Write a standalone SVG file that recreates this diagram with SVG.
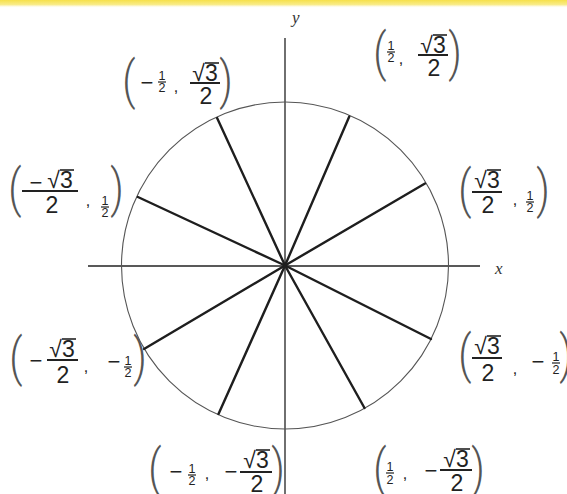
<svg xmlns="http://www.w3.org/2000/svg" width="567" height="494" viewBox="0 0 567 494">
<defs>
<linearGradient id="yel" x1="0" y1="0" x2="0" y2="1">
<stop offset="0" stop-color="#f6e04a"/>
<stop offset="0.6" stop-color="#f9ec8c"/>
<stop offset="1" stop-color="#ffffff" stop-opacity="0"/>
</linearGradient>
<style>
.big{font-family:"Liberation Sans",Arial,sans-serif;font-size:23px;fill:#222;text-anchor:middle}
.sm{font-family:"Liberation Sans",Arial,sans-serif;font-size:12.5px;fill:#222;text-anchor:middle}
.par{font-family:Roboto,"Liberation Sans",sans-serif;font-weight:300;font-size:52px;fill:#555;text-anchor:middle}
.cm{font-family:"Liberation Sans",Arial,sans-serif;font-size:16px;fill:#222;text-anchor:middle}
.mn{font-family:"Liberation Sans",Arial,sans-serif;font-size:22px;fill:#222;text-anchor:middle}
.ax{font-family:"Liberation Serif","Times New Roman",serif;font-style:italic;font-size:17px;fill:#333}
.bar{stroke:#222;stroke-width:2}
.sbar{stroke:#222;stroke-width:1.2}
.ovl{stroke:#222;stroke-width:1.6}
.spoke{stroke:#1e1e1e;stroke-width:2.4;stroke-linecap:round}
.axis{stroke:#222;stroke-width:1.3}
</style>
</defs>
<rect width="567" height="494" fill="#ffffff"/>
<rect x="0" y="0" width="567" height="8" fill="url(#yel)"/>

<g id="axes">
<line class="axis" x1="88" y1="266" x2="480" y2="266"/>
<line class="axis" x1="285" y1="38" x2="285" y2="494"/>
<text class="ax" x="292" y="23">y</text>
<text class="ax" x="495" y="274">x</text>
</g>

<g id="circle">
<circle cx="285" cy="265.5" r="163.5" fill="none" stroke="#555" stroke-width="1.1"/>
</g>

<g id="connectors">
<line class="spoke" x1="285" y1="265.5" x2="349.3" y2="116.5"/>
<line class="spoke" x1="285" y1="265.5" x2="217.1" y2="118"/>
<line class="spoke" x1="285" y1="265.5" x2="137.9" y2="197"/>
<line class="spoke" x1="285" y1="265.5" x2="425" y2="183.5"/>
<line class="spoke" x1="285" y1="265.5" x2="144" y2="349"/>
<line class="spoke" x1="285" y1="265.5" x2="431" y2="339"/>
<line class="spoke" x1="285" y1="265.5" x2="218.5" y2="414"/>
<line class="spoke" x1="285" y1="265.5" x2="364.5" y2="408"/>
</g>

<!-- L1 (1/2, sqrt3/2) B=55 -->
<g id="label-60">
<text class="par" transform="translate(380,70) scale(0.8,1)">(</text>
<text class="sm" x="391" y="50">1</text>
<line class="sbar" x1="387" y1="52" x2="395" y2="52"/>
<text class="sm" x="391" y="62">2</text>
<text class="cm" x="401" y="64">,</text>
<text class="big" x="433" y="53">√3</text>
<line class="ovl" x1="433" y1="35" x2="447" y2="35"/>
<line class="bar" x1="418" y1="55" x2="448" y2="55"/>
<text class="big" x="434" y="76">2</text>
<text class="par" transform="translate(455,70) scale(0.8,1)">)</text>
</g>

<!-- L2 (-1/2, sqrt3/2) B=83 -->
<g id="label-120">
<text class="par" transform="translate(129,98) scale(0.8,1)">(</text>
<text class="mn" x="147" y="90">−</text>
<text class="sm" x="162" y="80">1</text>
<line class="sbar" x1="158" y1="82" x2="166" y2="82"/>
<text class="sm" x="162" y="92">2</text>
<text class="cm" x="176" y="92">,</text>
<text class="big" x="205" y="81">√3</text>
<line class="ovl" x1="205" y1="63" x2="219" y2="63"/>
<line class="bar" x1="190" y1="83" x2="220" y2="83"/>
<text class="big" x="206" y="104">2</text>
<text class="par" transform="translate(226,98) scale(0.8,1)">)</text>
</g>

<!-- L3 (-sqrt3/2, 1/2) B=191 -->
<g id="label-150">
<text class="par" transform="translate(15,206) scale(0.8,1)">(</text>
<text class="mn" x="36" y="190">−</text>
<text class="big" x="60" y="188">√3</text>
<line class="ovl" x1="60" y1="170" x2="74" y2="170"/>
<line class="bar" x1="22" y1="191" x2="78" y2="191"/>
<text class="big" x="52" y="213">2</text>
<text class="cm" x="88" y="206">,</text>
<text class="sm" x="105" y="205">1</text>
<line class="sbar" x1="101" y1="207" x2="109" y2="207"/>
<text class="sm" x="105" y="217">2</text>
<text class="par" transform="translate(117,206) scale(0.8,1)">)</text>
</g>

<!-- L4 (sqrt3/2, 1/2) B=192 -->
<g id="label-30">
<text class="par" transform="translate(465,207) scale(0.8,1)">(</text>
<text class="big" x="487" y="188">√3</text>
<line class="ovl" x1="487" y1="170" x2="501" y2="170"/>
<line class="bar" x1="472" y1="192" x2="502" y2="192"/>
<text class="big" x="488" y="213">2</text>
<text class="cm" x="515" y="205">,</text>
<text class="sm" x="530" y="200">1</text>
<line class="sbar" x1="526" y1="202" x2="534" y2="202"/>
<text class="sm" x="530" y="212">2</text>
<text class="par" transform="translate(543,207) scale(0.8,1)">)</text>
</g>

<!-- L5 (-sqrt3/2, -1/2) B=360 -->
<g id="label-210">
<text class="par" transform="translate(16,375) scale(0.8,1)">(</text>
<text class="mn" x="36" y="368">−</text>
<text class="big" x="62" y="357">√3</text>
<line class="ovl" x1="62" y1="339" x2="76" y2="339"/>
<line class="bar" x1="47" y1="360" x2="78" y2="360"/>
<text class="big" x="63" y="383">2</text>
<text class="cm" x="86" y="372">,</text>
<text class="mn" x="114" y="369">−</text>
<text class="sm" x="128" y="365">1</text>
<line class="sbar" x1="124" y1="367" x2="132" y2="367"/>
<text class="sm" x="128" y="377">2</text>
<text class="par" transform="translate(140,375) scale(0.8,1)">)</text>
</g>

<!-- L6 (sqrt3/2, -1/2) B=358 -->
<g id="label-330">
<text class="par" transform="translate(465,372) scale(0.8,1)">(</text>
<text class="big" x="487" y="354">√3</text>
<line class="ovl" x1="487" y1="336" x2="501" y2="336"/>
<line class="bar" x1="472" y1="358" x2="502" y2="358"/>
<text class="big" x="488" y="381">2</text>
<text class="cm" x="515" y="374">,</text>
<text class="mn" x="538" y="369">−</text>
<text class="sm" x="556" y="361">1</text>
<line class="sbar" x1="552" y1="363" x2="560" y2="363"/>
<text class="sm" x="556" y="374">2</text>
<text class="par" transform="translate(566,372) scale(0.8,1)">)</text>
</g>

<!-- L7 (-1/2, -sqrt3/2) B=472 -->
<g id="label-240">
<text class="par" transform="translate(155,486) scale(0.8,1)">(</text>
<text class="mn" x="176" y="479">−</text>
<text class="sm" x="192" y="473">1</text>
<line class="sbar" x1="188" y1="475" x2="196" y2="475"/>
<text class="sm" x="192" y="485">2</text>
<text class="cm" x="207" y="479">,</text>
<text class="mn" x="231" y="479">−</text>
<text class="big" x="256" y="468">√3</text>
<line class="ovl" x1="256" y1="450" x2="270" y2="450"/>
<line class="bar" x1="240" y1="472" x2="272" y2="472"/>
<text class="big" x="257" y="492">2</text>
<text class="par" transform="translate(278,486) scale(0.8,1)">)</text>
</g>

<!-- L8 (1/2, -sqrt3/2) B=470 -->
<g id="label-300">
<text class="par" transform="translate(380,486) scale(0.8,1)">(</text>
<text class="sm" x="390" y="471">1</text>
<line class="sbar" x1="386" y1="473" x2="394" y2="473"/>
<text class="sm" x="390" y="484">2</text>
<text class="cm" x="405" y="479">,</text>
<text class="mn" x="431" y="478">−</text>
<text class="big" x="456" y="467">√3</text>
<line class="ovl" x1="456" y1="449" x2="470" y2="449"/>
<line class="bar" x1="440" y1="470" x2="472" y2="470"/>
<text class="big" x="457" y="491">2</text>
<text class="par" transform="translate(478,486) scale(0.8,1)">)</text>
</g>
</svg>
